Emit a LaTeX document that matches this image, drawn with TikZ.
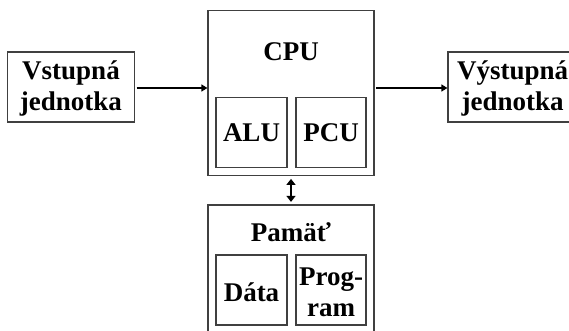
\documentclass[tikz,border=0pt]{standalone}
\usepackage{fontspec}
\setmainfont{Liberation Serif}
\usetikzlibrary{arrows.meta}
\begin{document}
\begin{tikzpicture}[x=1pt,y=-1pt,
  box/.style={draw=black!75,line width=1.2pt,rectangle,inner sep=0pt},
  lbl/.style={font=\fontsize{27}{31}\selectfont\bfseries,align=center,inner sep=0pt},
  conn/.style={line width=1.3pt,-{Triangle[length=6pt,width=7pt]}},
  biconn/.style={line width=1.3pt,{Triangle[length=6pt,width=9pt]}-{Triangle[length=6pt,width=9pt]}}]
\useasboundingbox (0,0) rectangle (569,330);
\clip (0,0) rectangle (569,330);
% input unit
\node[box,minimum width=127pt,minimum height=70pt] (inp) at (71,87) {};
\node[lbl] (inptxt) at (71,88) {Vstupná\\jednotka};
% processor with its two parts
\node[box,minimum width=166pt,minimum height=165pt] (cpu) at (291,93.3) {};
\node[lbl] (cputxt) at (291,52) {CPU};
\node[box,minimum width=71pt,minimum height=70pt] (alu) at (251.5,132.7) {};
\node[lbl] (alutxt) at (251.5,133) {ALU};
\node[box,minimum width=70pt,minimum height=70pt] (pcu) at (331,132.7) {};
\node[lbl] (pcutxt) at (331,133) {PCU};
% output unit, running past the right edge
\node[box,minimum width=127pt,minimum height=70pt] (out) at (511.5,87) {};
\node[lbl,anchor=west] (outtxt) at (457,88) {Výstupná\\jednotka};
% memory, running past the bottom edge
\node[box,minimum width=166pt,minimum height=140pt] (mem) at (291,275) {};
\node[lbl] (memtxt) at (291,232) {Pamäť};
\node[box,minimum width=71pt,minimum height=70pt] (dat) at (251.5,290) {};
\node[lbl] (dattxt) at (251.5,292) {Dáta};
\node[box,minimum width=70pt,minimum height=70pt] (prg) at (331,290) {};
\node[lbl] (prgtxt) at (331,292) {Prog-\\ram};
% connectors
\coordinate (a1) at ([xshift=1.5pt,yshift=-1pt]inp.east);
\coordinate (a2) at ([xshift=1.5pt]cpu.east |- a1);
\draw[conn] (a1) -- (a1 -| cpu.west);
\draw[conn] (a2) -- (a2 -| out.west);
\draw[biconn] ([yshift=-2.5pt]cpu.south) -- ([yshift=2.5pt]mem.north);
\end{tikzpicture}
\end{document}
